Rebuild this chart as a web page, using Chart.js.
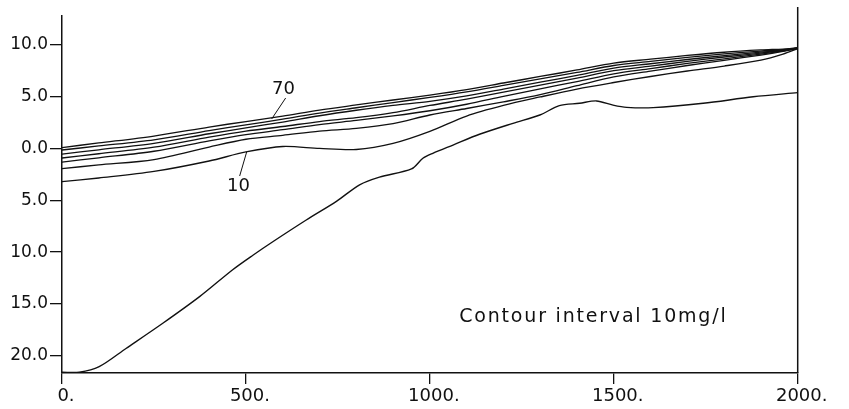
<!DOCTYPE html>
<html><head><meta charset="utf-8">
<script src="https://cdn.jsdelivr.net/npm/chart.js@4/dist/chart.umd.min.js"></script>
<style>html,body{margin:0;padding:0;background:#fff;}</style>
</head><body>
<canvas id="c" width="849" height="409"></canvas>
<script>
// ---- data (distance along section vs. level) ----
const contourX = [0,100,250,400,500,600,700,800,900,1000,1100,1200,1300,1400,1500,1600,1700,1800,1900,1960,2000];
const c70 = [0.10,0.54,1.21,2.08,2.61,3.14,3.72,4.21,4.69,5.17,5.70,6.33,6.96,7.59,8.26,8.63,8.99,9.30,9.52,9.61,9.71];
const c60 = [-0.14,0.25,0.84,1.74,2.29,2.84,3.43,3.94,4.44,4.94,5.48,6.10,6.73,7.35,8.02,8.41,8.80,9.14,9.41,9.56,9.71];
const c50 = [-0.53,-0.12,0.51,1.43,2.00,2.56,3.17,3.70,4.17,4.56,5.08,5.75,6.41,7.07,7.77,8.19,8.60,8.98,9.31,9.51,9.71];
const c40 = [-0.91,-0.50,0.13,1.10,1.68,2.13,2.61,2.98,3.47,4.16,4.77,5.45,6.12,6.80,7.52,7.96,8.42,8.84,9.22,9.47,9.71];
const c30 = [-1.30,-0.89,-0.26,0.74,1.35,1.82,2.32,2.72,3.15,3.65,4.28,5.04,5.77,6.47,7.22,7.72,8.22,8.67,9.12,9.43,9.68];
const c20 = [-1.93,-1.58,-1.06,0.15,0.90,1.28,1.69,1.95,2.40,3.24,3.87,4.51,5.20,6.07,6.92,7.48,8.02,8.52,9.03,9.38,9.66];
const c10 = [-3.20,-2.84,-2.21,-1.20,-0.33,0.20,0.01,-0.09,0.49,1.65,3.14,4.16,4.98,5.75,6.38,6.96,7.49,7.97,8.55,9.13,9.66];
const bedX = [0,47,101,174,274,374,464,519,573,664,746,809,863,950,981,1008,1063,1135,1226,1299,1352,1407,1453,1498,1535,1607,1743,1879,2000];
const bedY = [-21.6,-21.6,-21.06,-19.3,-16.87,-14.3,-11.7,-10.3,-9.0,-6.9,-5.1,-3.5,-2.75,-1.97,-0.94,-0.46,0.34,1.38,2.44,3.24,4.14,4.37,4.6,4.2,3.98,3.95,4.37,5.0,5.4];
const xTicks = [0,500,1000,1500,2000];
const yTicks = [10,5,0,-5,-10,-15,-20];
const contourLabels = ['70','10'];
const noteText = 'Contour interval 10mg/l';

const FONT = '"DejaVu Sans", sans-serif';
const pts = (xs, ys) => xs.map((x, i) => ({x: x, y: ys[i]}));
const contourSets = [c70, c60, c50, c40, c30, c20, c10];
const datasets = contourSets.map(arr => ({
  data: pts(contourX, arr), borderColor: '#111', borderWidth: 1.3,
  pointRadius: 0, tension: 0.3, fill: false
}));
datasets.push({ data: pts(bedX, bedY), borderColor: '#111', borderWidth: 1.4,
  pointRadius: 0, tension: 0.3, fill: false });

const decor = {
  id: 'decor',
  beforeDraw(chart) { chart.ctx.letterSpacing = '0px'; },
  afterDatasetsDraw(chart) { chart.ctx.letterSpacing = '1.5px'; },
  afterDraw(chart) {
    const ctx = chart.ctx, xs = chart.scales.x, ys = chart.scales.y, ca = chart.chartArea;
    ctx.save();
    ctx.letterSpacing = '0px';
    ctx.strokeStyle = '#111'; ctx.fillStyle = '#111';
    // right frame line
    ctx.lineWidth = 1.5;
    ctx.beginPath();
    ctx.moveTo(xs.getPixelForValue(2000), ca.bottom);
    ctx.lineTo(xs.getPixelForValue(2000), ca.top - 9);
    ctx.stroke();
    // contour labels with leaders
    ctx.lineWidth = 1;
    ctx.font = '18px ' + FONT;
    ctx.textAlign = 'center'; ctx.textBaseline = 'middle';
    ctx.fillText(contourLabels[0], xs.getPixelForValue(602), ys.getPixelForValue(5.75));
    ctx.beginPath();
    ctx.moveTo(xs.getPixelForValue(608), ys.getPixelForValue(4.88));
    ctx.lineTo(xs.getPixelForValue(570), ys.getPixelForValue(2.86));
    ctx.stroke();
    ctx.fillText(contourLabels[1], xs.getPixelForValue(480), ys.getPixelForValue(-3.61));
    ctx.beginPath();
    ctx.moveTo(xs.getPixelForValue(483), ys.getPixelForValue(-2.65));
    ctx.lineTo(xs.getPixelForValue(502), ys.getPixelForValue(-0.33));
    ctx.stroke();
    // note
    ctx.letterSpacing = '1.8px';
    ctx.font = '19px ' + FONT;
    ctx.textAlign = 'left';
    ctx.fillText(noteText, xs.getPixelForValue(1080), ys.getPixelForValue(-16.26));
    ctx.restore();
  }
};

new Chart(document.getElementById('c'), {
  type: 'line',
  data: { datasets: datasets },
  options: {
    responsive: false, animation: false, devicePixelRatio: 1,
    layout: { padding: { left: 0, top: 16, right: 51.3, bottom: 0 } },
    plugins: { legend: { display: false }, tooltip: { enabled: false } },
    elements: { line: { borderCapStyle: 'round', borderJoinStyle: 'round' } },
    scales: {
      x: {
        type: 'linear', min: 0, max: 2000, z: 1,
        afterBuildTicks: s => { s.ticks = xTicks.map(v => ({value: v})); },
        afterFit: s => { s.height = 36; },
        grid: { drawOnChartArea: false, drawTicks: true, tickLength: 11, color: '#111', lineWidth: 1.3 },
        border: { display: true, color: '#111', width: 1.5 },
        ticks: { color: '#111', font: { family: FONT, size: 18 }, padding: 2, labelOffset: 4,
          maxRotation: 0, autoSkip: false, callback: v => v + '.' }
      },
      y: {
        type: 'linear', min: -21.67, max: 12.80,
        afterBuildTicks: s => { s.ticks = yTicks.map(v => ({value: v})); },
        afterFit: s => { s.width = 62; },
        grid: { drawOnChartArea: false, drawTicks: true, tickLength: 12, color: '#111', lineWidth: 1.3 },
        border: { display: true, color: '#111', width: 1.5 },
        ticks: { color: '#111', font: { family: FONT, size: 17 }, padding: 2,
          autoSkip: false, callback: v => Math.abs(v).toFixed(1) }
      }
    }
  },
  plugins: [decor]
});
</script>
</body></html>
